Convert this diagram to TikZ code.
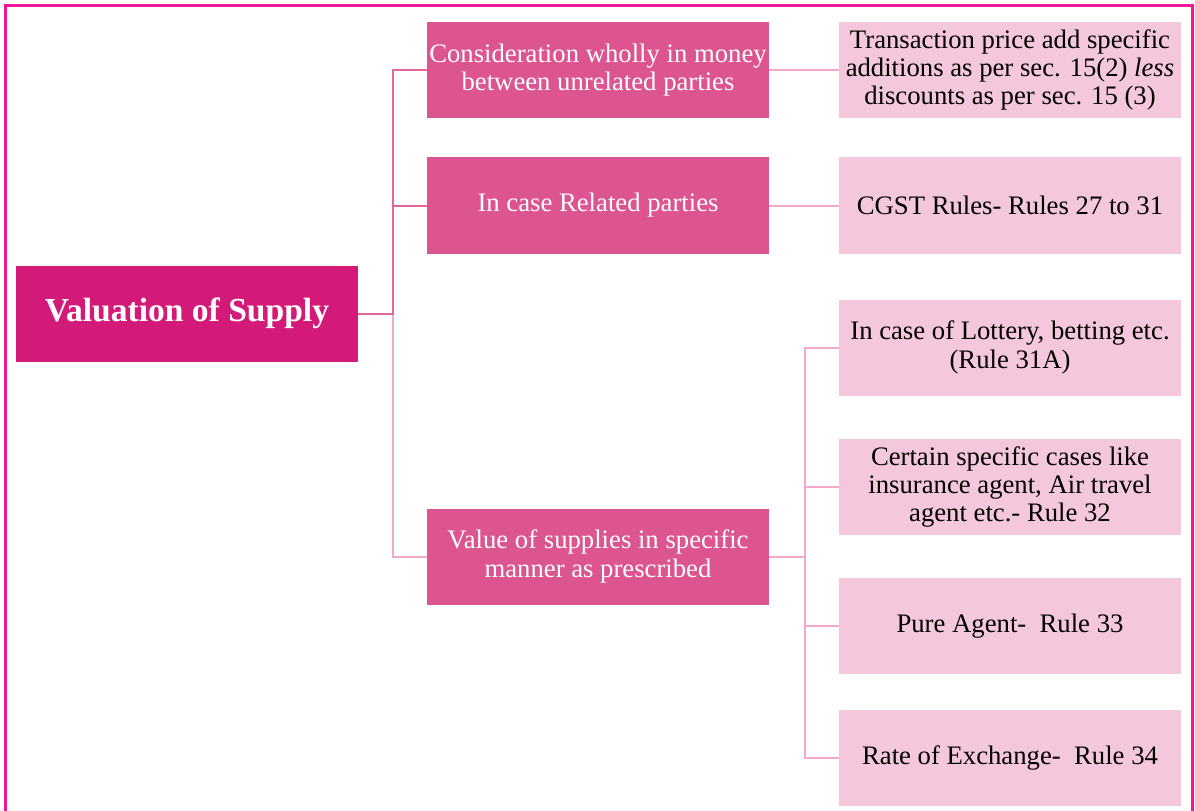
\documentclass[tikz,border=0pt]{standalone}
\usepackage{fontspec}
\setmainfont{Liberation Serif}
\usetikzlibrary{calc}
\definecolor{rootfill}{HTML}{D41A78}
\definecolor{midfill}{HTML}{DC5490}
\definecolor{leaffill}{HTML}{F4C7DC}
\definecolor{frame}{HTML}{F0189A}
\definecolor{linkdark}{HTML}{E2659F}
\definecolor{linklight}{HTML}{F2A9CB}
\begin{document}
\begin{tikzpicture}[x=1bp,y=-1bp,
  box/.style={rectangle, minimum width=342bp, minimum height=96bp,
    inner sep=0pt, align=center, font=\fontsize{26.8}{28.5}\selectfont},
  rootbox/.style={box, fill=rootfill, text=white,
    font=\fontsize{33.7}{38}\selectfont\bfseries},
  midbox/.style={box, fill=midfill, text=white},
  leafbox/.style={box, fill=leaffill, text=black},
  link/.style={line width=2bp, linkdark},
  softlink/.style={line width=2bp, linklight}]
\useasboundingbox (0,0) rectangle (1195,811);

% outer frame, open at the bottom
\draw[frame, line width=3bp] (5.5,811) -- (5.5,5.5) -- (1192.5,5.5) -- (1192.5,811);

% root
\node[rootbox] (root) at (187,313.5) {Valuation of Supply};

% second level
\node[midbox] (m1) at (598,70) {Consideration wholly in money\\between unrelated parties};
\node[midbox] (m2) at (598,205.5) {In case Related parties};
\node[midbox] (m3) at (598,556.5) {Value of supplies in specific\\manner as prescribed};

% third level
\node[leafbox] (l1) at (1010,70) {Transaction price add specific\\additions as per sec. 15(2) \textit{less}\\discounts as per sec. 15 (3)};
\node[leafbox] (l2) at (1010,205.5) {CGST Rules- Rules 27 to 31};
\node[leafbox] (l3) at (1010,347.5) {In case of Lottery, betting etc.\\(Rule 31A)};
\node[leafbox] (l4) at (1010,487) {Certain specific cases like\\insurance agent, Air travel\\agent etc.- Rule 32};
\node[leafbox] (l5) at (1010,626) {Pure Agent-\ \ Rule 33};
\node[leafbox] (l6) at (1010,757.5) {Rate of Exchange-\ \ Rule 34};

% junction points of the two brackets
\coordinate (rj) at ($(root.east)+(35,0)$);
\coordinate (mj) at ($(m3.east)+(36,0)$);

% root to second level
\draw[softlink] (root.east) -- (rj) |- (m3.west);
\draw[link] (root.east) -- (rj) |- (m1.west);
\draw[link] (rj) |- (m2.west);

% second level to third level
\draw[softlink] (m1.east) -- (l1.west);
\draw[softlink] (m2.east) -- (l2.west);
\draw[softlink] (m3.east) -- (mj) |- (l3.west);
\draw[softlink] (mj) |- (l4.west);
\draw[softlink] (mj) |- (l5.west);
\draw[softlink] (mj) |- (l6.west);
\end{tikzpicture}
\end{document}
